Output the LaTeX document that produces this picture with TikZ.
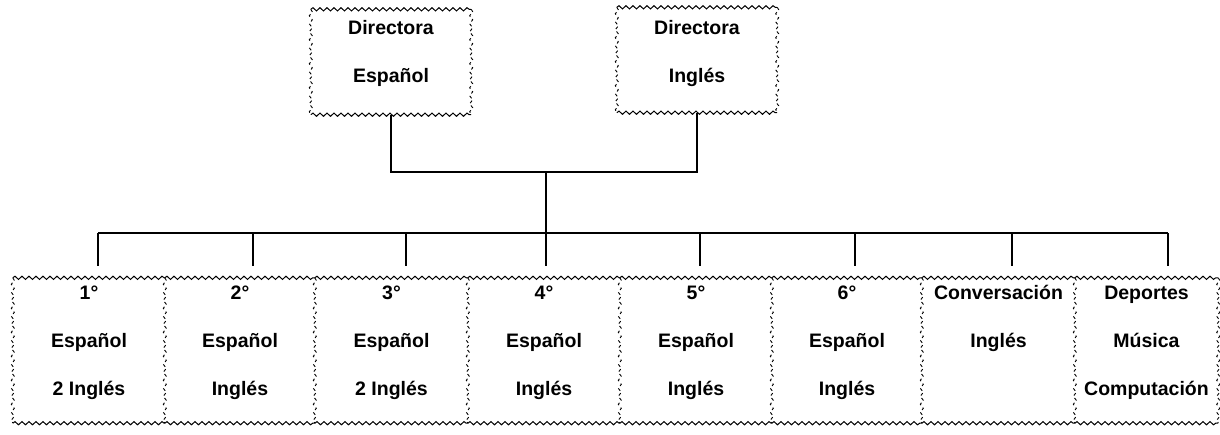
\documentclass[tikz,border=0pt]{standalone}
\usepackage{fontspec}
\setmainfont{Liberation Sans}
\usetikzlibrary{decorations.pathmorphing}
\begin{document}
\begin{tikzpicture}[x=1pt,y=-1pt,
  lbl/.style={font=\fontsize{19.5}{22}\selectfont\bfseries, inner sep=0pt, text height=14pt, text depth=4pt},
  topbox/.style={minimum width=160pt, minimum height=105pt, inner sep=0pt},
  cell/.style={minimum height=145pt, inner sep=0pt},
  wavyh/.style={decorate, decoration={snake, amplitude=1.6pt, segment length=7pt}, line width=1pt},
  wavyv/.style={decorate, decoration={snake, amplitude=1.5pt, segment length=8pt}, line width=0.9pt, dash pattern=on 3pt off 3pt},
  conn/.style={line width=1.6pt}]
\useasboundingbox[fill=white] (0,0) rectangle (1220,434);

% top boxes
\node[topbox] (ds) at (391,62) {};
\node[topbox] (di) at (697,60) {};
\foreach \b in {ds,di}{
  \draw[wavyh] (\b.north west) -- (\b.north east);
  \draw[wavyh] (\b.south west) -- (\b.south east);
  \draw[wavyv] (\b.north west) -- (\b.south west);
  \draw[wavyv] (\b.north east) -- (\b.south east);
}
\node[lbl] (ds1) at (391,29) {Directora};
\node[lbl] (ds2) at (391,77) {Español};
\node[lbl] (di1) at (697,29) {Directora};
\node[lbl] (di2) at (697,77) {Inglés};

% bottom cells
\node[cell, minimum width=152pt] (c1) at (89,350.5) {};
\node[cell, minimum width=150pt] (c2) at (240,350.5) {};
\node[cell, minimum width=153pt] (c3) at (391.5,350.5) {};
\node[cell, minimum width=152pt] (c4) at (544,350.5) {};
\node[cell, minimum width=152pt] (c5) at (696,350.5) {};
\node[cell, minimum width=150pt] (c6) at (847,350.5) {};
\node[cell, minimum width=153pt] (c7) at (998.5,350.5) {};
\node[cell, minimum width=143pt] (c8) at (1146.5,350.5) {};
\foreach \c in {c1,c2,c3,c4,c5,c6,c7,c8}{
  \draw[wavyh] (\c.north west) -- (\c.north east);
  \draw[wavyh] (\c.south west) -- (\c.south east);
  \draw[wavyv] (\c.north west) -- (\c.south west);
}
\draw[wavyv] (c8.north east) -- (c8.south east);

% cell texts
\foreach \c/\n in {c1/1,c2/2,c3/3,c4/4,c5/5,c6/6}{
  \node[lbl] (\c a) at ([yshift=56pt]\c.center) {\n°};
  \node[lbl] (\c b) at ([yshift=8pt]\c.center) {Español};
}
\node[lbl] (c1c) at ([yshift=-40pt]c1.center) {2 Inglés};
\node[lbl] (c2c) at ([yshift=-40pt]c2.center) {Inglés};
\node[lbl] (c3c) at ([yshift=-40pt]c3.center) {2 Inglés};
\node[lbl] (c4c) at ([yshift=-40pt]c4.center) {Inglés};
\node[lbl] (c5c) at ([yshift=-40pt]c5.center) {Inglés};
\node[lbl] (c6c) at ([yshift=-40pt]c6.center) {Inglés};
\node[lbl] (c7a) at ([yshift=56pt]c7.center) {Conversación};
\node[lbl] (c7b) at ([yshift=8pt]c7.center) {Inglés};
\node[lbl] (c8a) at ([yshift=56pt]c8.center) {Deportes};
\node[lbl] (c8b) at ([yshift=8pt]c8.center) {Música};
\node[lbl] (c8c) at ([yshift=-40pt]c8.center) {Computación};

% connectors
\coordinate (j) at (546,172);
\coordinate (b1) at (98,233);
\coordinate (b2) at (253,233);
\coordinate (b3) at (406,233);
\coordinate (b4) at (546,233);
\coordinate (b5) at (700,233);
\coordinate (b6) at (855,233);
\coordinate (b7) at (1012,233);
\coordinate (b8) at (1168,233);
\draw[conn] (ds.south) -- (ds.south |- j) -- (di.south |- j) -- (di.south);
\draw[conn] (j) -- (b4);
\draw[conn] (b1) -- (b8);
\foreach \i in {1,...,8}{
  \draw[conn, shorten >=12pt] (b\i) -- (b\i |- c\i.north);
}
\end{tikzpicture}
\end{document}
